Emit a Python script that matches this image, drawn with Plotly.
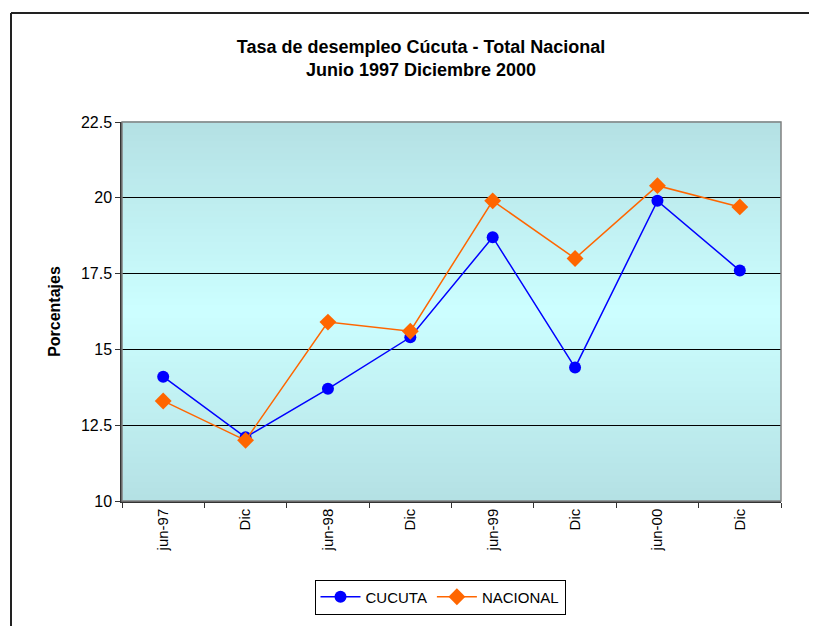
import plotly.graph_objects as go

periodos = ['jun-97', 'Dic ', 'jun-98', 'Dic  ', 'jun-99', 'Dic   ', 'jun-00', 'Dic    ']
etiquetas = ['jun-97', 'Dic', 'jun-98', 'Dic', 'jun-99', 'Dic', 'jun-00', 'Dic']
cucuta = [14.1, 12.1, 13.7, 15.4, 18.7, 14.4, 19.9, 17.6]
nacional = [13.3, 12.0, 15.9, 15.6, 19.9, 18.0, 20.4, 19.7]
y_ticks = [10, 12.5, 15, 17.5, 20, 22.5]

FONT = 'Liberation Sans, Arial, sans-serif'
OFF = 8  # page body margin in the browser

fig = go.Figure()
fig.add_trace(go.Scatter(
    x=periodos, y=cucuta, name='CUCUTA', mode='lines+markers',
    line=dict(color='#0000ff', width=1.5),
    marker=dict(symbol='circle', size=12, color='#0000ff'),
))
fig.add_trace(go.Scatter(
    x=periodos, y=nacional, name='NACIONAL', mode='lines+markers',
    line=dict(color='#ff6600', width=1.5),
    marker=dict(symbol='diamond', size=13, color='#ff6600'),
))

# background gradient: teal at edges, light cyan in the middle
shapes = []
n = 60
top = (180, 224, 228)
mid = (204, 255, 255)
for i in range(n):
    t = abs((i + 0.5) / n - 0.5) * 2
    c = tuple(round(mid[k] + (top[k] - mid[k]) * t) for k in range(3))
    shapes.append(dict(
        type='rect', xref='x domain', yref='y domain', layer='below',
        x0=0, x1=1, y0=i / n, y1=(i + 1) / n + 0.002,
        fillcolor='rgb(%d,%d,%d)' % c, line=dict(width=0),
    ))
# plot area frame (grey top/right)
shapes.append(dict(type='rect', xref='paper', yref='paper', x0=0, x1=1, y0=0, y1=1,
                   line=dict(color='#808080', width=1.5), layer='above'))
# chart border
shapes.append(dict(type='line', xref='paper', yref='paper',
                   x0=(11 - 122) / 659, x1=(11 - 122) / 659,
                   y0=(501 - 640) / 379, y1=(501 - 13) / 379,
                   line=dict(color='#222222', width=2)))
shapes.append(dict(type='line', xref='paper', yref='paper',
                   x0=(11 - 122) / 659, x1=(830 - 122) / 659,
                   y0=(501 - 13) / 379, y1=(501 - 13) / 379,
                   line=dict(color='#222222', width=2)))

fig.update_layout(
    width=817 - OFF, height=626 - OFF,
    margin=dict(l=122 - OFF, r=36, t=122 - OFF, b=125),
    paper_bgcolor='white', plot_bgcolor='rgba(0,0,0,0)',
    font=dict(family=FONT, color='black', size=15),
    title=dict(
        text='<b>Tasa de desempleo Cúcuta - Total Nacional<br>Junio 1997 Diciembre 2000</b>',
        x=(421 - OFF) / (817 - OFF), xanchor='center',
        y=1 - (53 - OFF) / (626 - OFF), yanchor='middle',
        font=dict(size=18, family=FONT),
    ),
    shapes=shapes,
    showlegend=True,
    legend=dict(
        orientation='h', x=(440 - 122) / 659, xanchor='center',
        y=(501 - 597) / 379, yanchor='middle',
        bordercolor='black', borderwidth=1, bgcolor='white',
        font=dict(size=15, family=FONT), itemwidth=40,
    ),
)
fig.update_xaxes(
    type='category', tickmode='array', tickvals=periodos, ticktext=etiquetas,
    tickangle=-90, tickson='boundaries', ticks='outside', ticklen=5,
    tickcolor='#333333', showline=True, linecolor='#333333', linewidth=1.5,
    showgrid=False, tickfont=dict(size=15), range=[-0.5, 7.5],
)
fig.update_yaxes(
    range=[10, 22.5], tickmode='array', tickvals=y_ticks,
    ticktext=[str(v) for v in y_ticks],
    ticks='outside', ticklen=5, tickcolor='#333333',
    showline=True, linecolor='#333333', linewidth=1.5,
    showgrid=True, gridcolor='black', gridwidth=1, zeroline=False,
    title=dict(text='<b>Porcentajes</b>', font=dict(size=16), standoff=16),
    tickfont=dict(size=16),
)

fig.write_html('out.html')
